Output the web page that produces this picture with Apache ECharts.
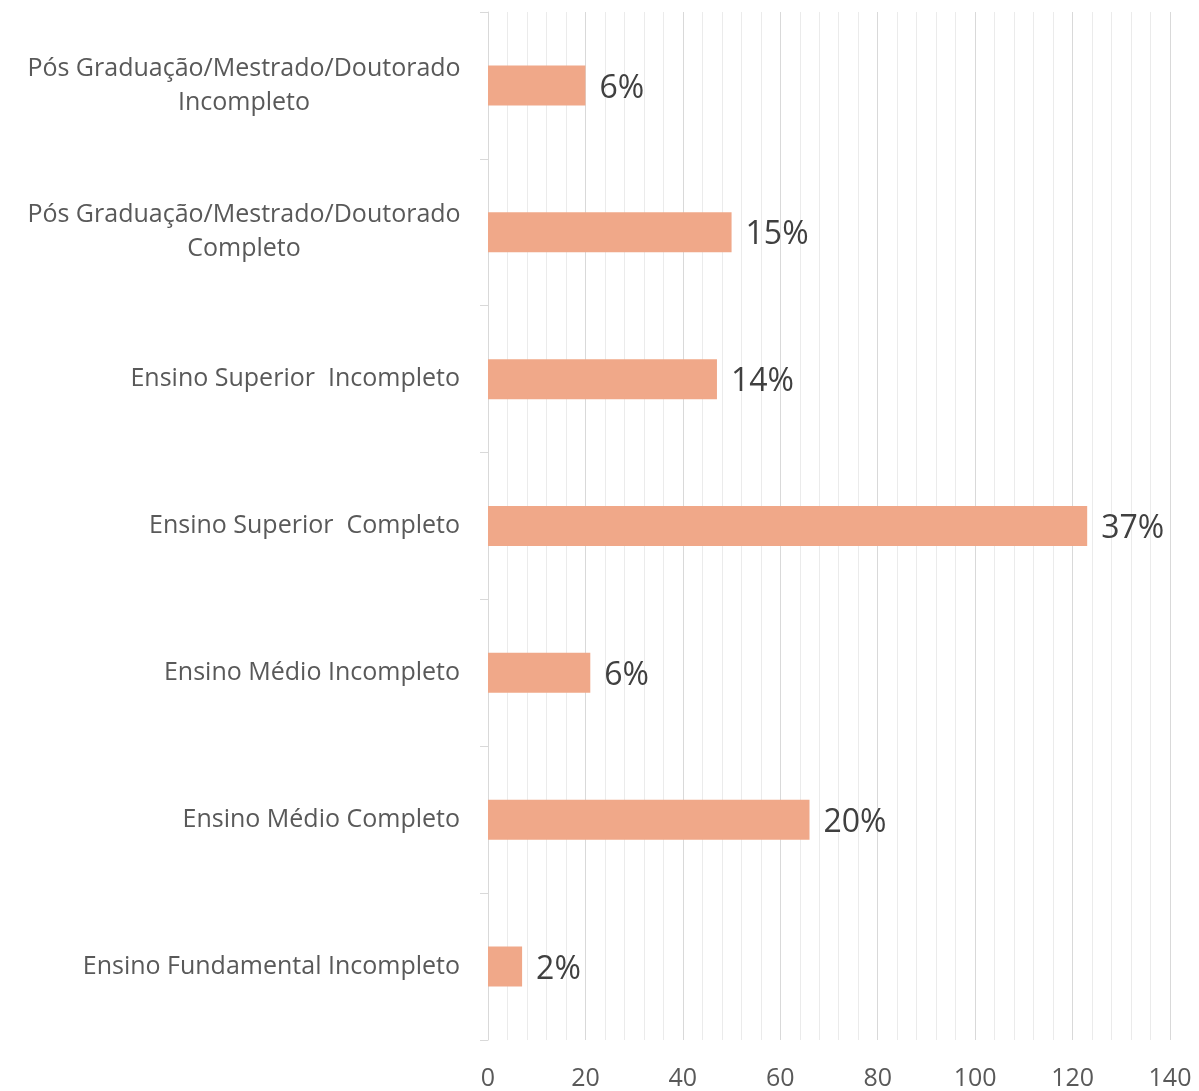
<!DOCTYPE html>
<html>
<head>
<meta charset="utf-8">
<script src="https://cdn.jsdelivr.net/npm/echarts@6/dist/echarts.min.js"></script>
<style>
  html, body { margin: 0; padding: 0; background: #fff; }
  #chart { width: 1199px; height: 1091px; }
</style>
</head>
<body>
<div id="chart"></div>
<script>
// categorias, de baixo para cima
const categorias = [
  'Ensino Fundamental Incompleto',
  'Ensino Médio Completo',
  'Ensino Médio Incompleto',
  'Ensino Superior  Completo',
  'Ensino Superior  Incompleto',
  'Pós Graduação/Mestrado/Doutorado\nCompleto',
  'Pós Graduação/Mestrado/Doutorado\nIncompleto'
]
// número de respostas
const respostas = [7, 66, 21, 123, 47, 50, 20]
const xTicks = [0, 20, 40, 60, 80, 100, 120, 140]

const total = respostas.reduce((a, b) => a + b, 0)

const chart = echarts.init(document.getElementById('chart'))

const options = {
  animation: false,
  grid: { left: 488, right: 29, top: 12, bottom: 50 },
  xAxis: {
    type: 'value',
    min: xTicks[0],
    max: xTicks[xTicks.length - 1],
    interval: 20,
    axisLine: { show: false },
    axisTick: { show: false },
    axisLabel: {
      fontFamily: 'Open Sans',
      fontSize: 25,
      color: '#595959',
      margin: 26
    },
    splitLine: { show: true, lineStyle: { color: '#d9d9d9', width: 1 } },
    minorTick: { show: false, splitNumber: 5 },
    minorSplitLine: { show: true, lineStyle: { color: '#ebebeb', width: 1 } }
  },
  yAxis: {
    type: 'category',
    data: categorias,
    axisLine: { show: true, lineStyle: { color: '#d9d9d9' } },
    axisTick: { show: true, length: 8, lineStyle: { color: '#d9d9d9' } },
    axisLabel: {
      margin: 28,
      fontFamily: 'Open Sans',
      fontSize: 25,
      color: '#595959',
      formatter: (v) => {
        if (v.indexOf('\n') < 0) return v
        return v.split('\n').map((l) => '{c|' + l + '}').join('\n')
      },
      rich: {
        c: {
          fontFamily: 'Open Sans',
          fontSize: 25,
          color: '#595959',
          width: 432,
          align: 'center',
          lineHeight: 34
        }
      }
    }
  },
  series: [
    {
      type: 'bar',
      data: respostas,
      barWidth: 40,
      itemStyle: { color: '#f0a889' },
      label: {
        show: true,
        position: 'right',
        distance: 14,
        offset: [0, 3],
        fontFamily: 'Open Sans',
        fontSize: 32,
        color: '#404040',
        formatter: (p) => Math.round((p.value / total) * 100) + '%'
      }
    }
  ]
}

chart.setOption(options)
</script>
</body>
</html>
